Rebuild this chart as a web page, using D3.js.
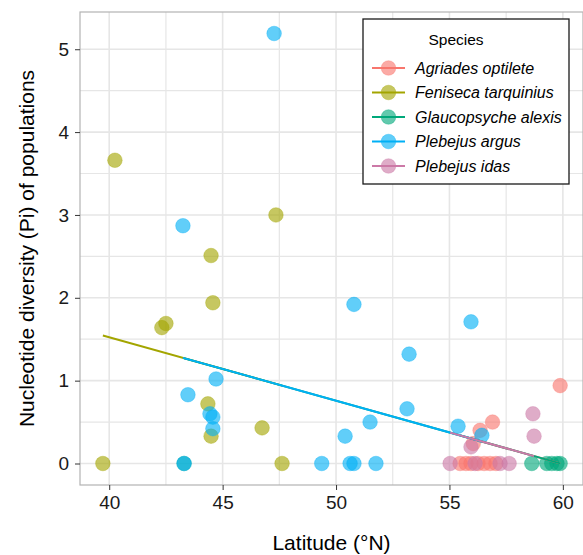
<!DOCTYPE html>
<html>
<head>
<meta charset="utf-8">
<script src="https://cdn.jsdelivr.net/npm/d3@7"></script>
<style>
  body { margin: 0; background: #fff; }
  svg { font-family: "Liberation Sans", Arial, sans-serif; }
</style>
</head>
<body>
<svg id="chart"></svg>
<script>
// species in legend order, and their colours
const species = ["Agriades optilete", "Feniseca tarquinius", "Glaucopsyche alexis", "Plebejus argus", "Plebejus idas"];
const colors = ["#F8766D", "#A3A500", "#00A87A", "#00B0F6", "#CC79A7"];

// [latitude, pi]
const agriades = [
  [59.88, 0.94], [56.9, 0.5], [56.35, 0.4], [56.05, 0.24],
  [55.47, 0], [55.73, 0], [55.95, 0], [56.26, 0], [56.53, 0], [56.79, 0], [57.05, 0]
];
const feniseca = [
  [39.72, 0], [40.25, 3.66], [42.32, 1.64], [42.5, 1.69], [44.57, 1.94], [44.49, 2.51],
  [47.35, 3.0], [44.35, 0.72], [44.49, 0.33], [46.74, 0.43], [47.62, 0]
];
const glaucopsyche = [
  [43.3, 0], [58.63, 0], [59.29, 0], [59.51, 0], [59.74, 0], [59.88, 0]
];
const argus = [
  [47.27, 5.19], [43.25, 2.87], [50.79, 1.92], [55.95, 1.71], [53.22, 1.32], [44.71, 1.02],
  [43.47, 0.83], [44.44, 0.6], [44.57, 0.56], [44.57, 0.42], [53.13, 0.66], [51.5, 0.5],
  [50.4, 0.33], [55.38, 0.45], [56.43, 0.34], [43.3, 0], [49.37, 0], [50.62, 0],
  [50.79, 0], [51.76, 0]
];
const idas = [
  [58.68, 0.6], [58.73, 0.33], [55.95, 0.2], [55.03, 0], [56.13, 0], [57.23, 0], [57.63, 0]
];
const groups = [agriades, feniseca, glaucopsyche, argus, idas];

// fitted line shared by all species
const fitIntercept = 4.588;
const fitSlope = -0.0766;

const xTicks = [40, 45, 50, 55, 60];
const yTicks = [0, 1, 2, 3, 4, 5];

const width = 583, height = 555;
const margin = { top: 12, right: 0, bottom: 70, left: 80 };

const svg = d3.select("#chart").attr("width", width).attr("height", height);

const all = groups.flat();
const xExt = d3.extent(all, d => d[0]);
const yExt = d3.extent(all, d => d[1]);
const xPad = (xExt[1] - xExt[0]) * 0.05;
const yPad = (yExt[1] - yExt[0]) * 0.05;

const x = d3.scaleLinear()
  .domain([xExt[0] - xPad, xExt[1] + xPad])
  .range([margin.left, width - margin.right]);
const y = d3.scaleLinear()
  .domain([yExt[0] - yPad, yExt[1] + yPad])
  .range([height - margin.bottom, margin.top]);

const x0 = margin.left, x1 = width - margin.right;
const y0 = height - margin.bottom, y1 = margin.top;

// grid (major + minor)
const grid = svg.append("g");
const xMinor = d3.range(37.5, 62.5, 2.5);
const yMinor = d3.range(-0.5, 6, 0.5);
grid.selectAll(".gx").data(xMinor.filter(v => v > x.domain()[0] && v < x.domain()[1]))
  .join("line")
  .attr("x1", d => x(d)).attr("x2", d => x(d))
  .attr("y1", y0).attr("y2", y1)
  .attr("stroke", "#e6e6e6")
  .attr("stroke-width", d => (d % 5 === 0 ? 1.6 : 1.2));
grid.selectAll(".gy").data(yMinor.filter(v => v > y.domain()[0] && v < y.domain()[1]))
  .join("line")
  .attr("x1", x0).attr("x2", x1)
  .attr("y1", d => y(d)).attr("y2", d => y(d))
  .attr("stroke", "#e6e6e6")
  .attr("stroke-width", d => (d % 1 === 0 ? 1.6 : 1.2));

// points
groups.forEach((pts, i) => {
  svg.append("g").selectAll("circle").data(pts).join("circle")
    .attr("cx", d => x(d[0]))
    .attr("cy", d => y(d[1]))
    .attr("r", 7.3)
    .attr("fill", colors[i])
    .attr("fill-opacity", 0.62)
    .attr("stroke", colors[i])
    .attr("stroke-opacity", 0.35)
    .attr("stroke-width", 1);
});

// fitted segments, one per species over its own latitude range
groups.forEach((pts, i) => {
  const [a, b] = d3.extent(pts, d => d[0]);
  svg.append("line")
    .attr("x1", x(a)).attr("y1", y(fitIntercept + fitSlope * a))
    .attr("x2", x(b)).attr("y2", y(fitIntercept + fitSlope * b))
    .attr("stroke", colors[i])
    .attr("stroke-width", 2);
});

// panel border
svg.append("rect")
  .attr("x", x0).attr("y", y1)
  .attr("width", x1 - x0).attr("height", y0 - y1)
  .attr("fill", "none")
  .attr("stroke", "#b3b3b3")
  .attr("stroke-width", 1.2);

// axes
const xAxis = svg.append("g")
  .attr("transform", `translate(0, ${y0})`)
  .call(d3.axisBottom(x).tickValues(xTicks).tickFormat(d3.format("d")).tickSize(5).tickPadding(6));
const yAxis = svg.append("g")
  .attr("transform", `translate(${x0}, 0)`)
  .call(d3.axisLeft(y).tickValues(yTicks).tickFormat(d3.format("d")).tickSize(5).tickPadding(6));
[xAxis, yAxis].forEach(g => {
  g.select(".domain").remove();
  g.selectAll(".tick line").attr("stroke", "#333");
  g.selectAll(".tick text")
    .attr("fill", "#1a1a1a")
    .style("font-size", "19px")
    .style("font-family", "Liberation Sans, Arial, sans-serif");
});

// axis titles
svg.append("text")
  .attr("x", (x0 + x1) / 2)
  .attr("y", 550)
  .attr("text-anchor", "middle")
  .style("font-size", "21px")
  .text("Latitude (°N)");
svg.append("text")
  .attr("transform", `translate(34, ${(y0 + y1) / 2}) rotate(-90)`)
  .attr("text-anchor", "middle")
  .style("font-size", "21px")
  .text("Nucleotide diversity (Pi) of populations");

// legend
const legend = svg.append("g");
legend.append("rect")
  .attr("x", 363).attr("y", 19)
  .attr("width", 206).attr("height", 165)
  .attr("fill", "#fff")
  .attr("stroke", "#1a1a1a")
  .attr("stroke-width", 1.3);
legend.append("text")
  .attr("x", 456).attr("y", 45)
  .attr("text-anchor", "middle")
  .style("font-size", "15.5px")
  .text("Species");
species.forEach((name, i) => {
  const cy = 68 + i * 24.5;
  legend.append("line")
    .attr("x1", 372).attr("x2", 405)
    .attr("y1", cy).attr("y2", cy)
    .attr("stroke", colors[i]).attr("stroke-width", 2);
  legend.append("circle")
    .attr("cx", 388.5).attr("cy", cy).attr("r", 7.3)
    .attr("fill", colors[i]).attr("fill-opacity", 0.62)
    .attr("stroke", colors[i]).attr("stroke-opacity", 0.35);
  legend.append("text")
    .attr("x", 415).attr("y", cy + 5.5)
    .style("font-size", "16px")
    .style("font-style", "italic")
    .text(name);
});
</script>
</body>
</html>
